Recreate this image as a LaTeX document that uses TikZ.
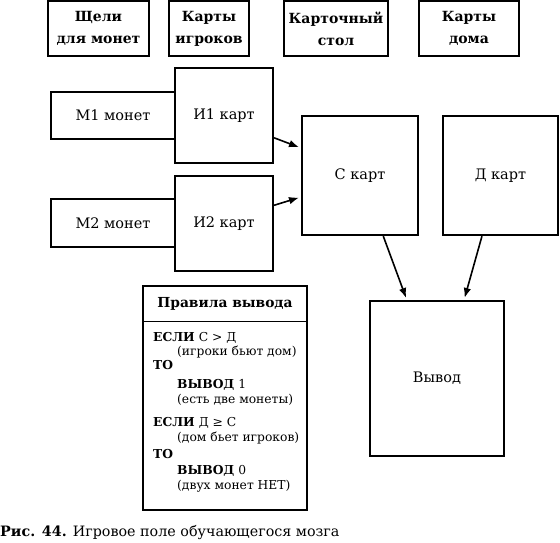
\documentclass[tikz,border=0pt]{standalone}
\usepackage{fontspec}
\setmainfont{DejaVu Serif}
\usetikzlibrary{arrows.meta}

\begin{document}
\begin{tikzpicture}[x=1pt, y=-1pt,
    head/.style={draw, line width=1.6pt, minimum height=55pt, align=center,
        font=\bfseries\fontsize{14}{22}\selectfont},
    cell/.style={draw, line width=2.2pt, font=\fontsize{14.5}{16}\selectfont},
    link/.style={line width=1.6pt, -{Latex[length=10pt,width=7.5pt]}, shorten >=2pt}]

    \useasboundingbox (0,0) rectangle (560,542);

    % column headers
    \node[head, minimum width=101pt] (slots) at (98.5,28.5) {Щели\\для монет};
    \node[head, minimum width=80pt] (pcards) at (209,28.5) {Карты\\игроков};
    \node[head, minimum width=104pt] (tablehd) at (336,28.5) {Карточный\\стол};
    \node[head, minimum width=100pt] (househd) at (469,28.5) {Карты\\дома};

    % players: coins and cards
    \node[cell, minimum width=124pt, minimum height=47pt] (m1) at (113,115.5) {М1 монет};
    \node[cell, minimum width=98pt, minimum height=95pt] (i1) at (224,115.5) {И1 карт};
    \node[cell, minimum width=124pt, minimum height=48pt] (m2) at (113,223) {М2 монет};
    \node[cell, minimum width=98pt, minimum height=95pt] (i2) at (224,223.5) {И2 карт};

    % table, house, result
    \node[cell, minimum width=116pt, minimum height=119pt] (c) at (360,175.5) {С карт};
    \node[cell, minimum width=115pt, minimum height=119pt] (d) at (500.5,175.5) {Д карт};
    \node[cell, minimum width=134pt, minimum height=155pt] (out) at (437,378.5) {Вывод};

    \draw[link] (i1.-24) -- (c.155);
    \draw[link] (i2.20) -- (c.200);
    \draw[link] (c.-69) -- (out.111);
    \draw[link] (d.-107) -- (out.71.5);

    % rules box
    \node[draw, line width=1.4pt, minimum width=164pt, minimum height=224pt] (rules) at (225,398) {};
    \node[font=\bfseries\fontsize{13.8}{15}\selectfont, minimum height=35pt] (rulestitle) at (225,303.5) {Правила вывода};
    \draw[line width=1.4pt] (rules.west |- rulestitle.south) -- (rules.east |- rulestitle.south);
    \node[anchor=north west, inner sep=0pt, align=left, font=\fontsize{12.3}{14.5}\selectfont] (rulestext) at (153,332)
        {\textbf{ЕСЛИ} С > Д\\
         \hspace*{24pt}(игроки бьют дом)\\[-1pt]
         \textbf{ТО}\\[4.5pt]
         \hspace*{24pt}\textbf{ВЫВОД} 1\\[0.5pt]
         \hspace*{24pt}(есть две монеты)\\[8.5pt]
         \textbf{ЕСЛИ} Д ≥ С\\[0.5pt]
         \hspace*{24pt}(дом бьет игроков)\\[2.5pt]
         \textbf{ТО}\\[1.5pt]
         \hspace*{24pt}\textbf{ВЫВОД} 0\\[0.5pt]
         \hspace*{24pt}(двух монет НЕТ)};

    \node[anchor=base west, inner sep=0pt, font=\fontsize{14.3}{16}\selectfont] (caption) at (0,536)
        {\textbf{Рис. 44.} Игровое поле обучающегося мозга};
\end{tikzpicture}
\end{document}
